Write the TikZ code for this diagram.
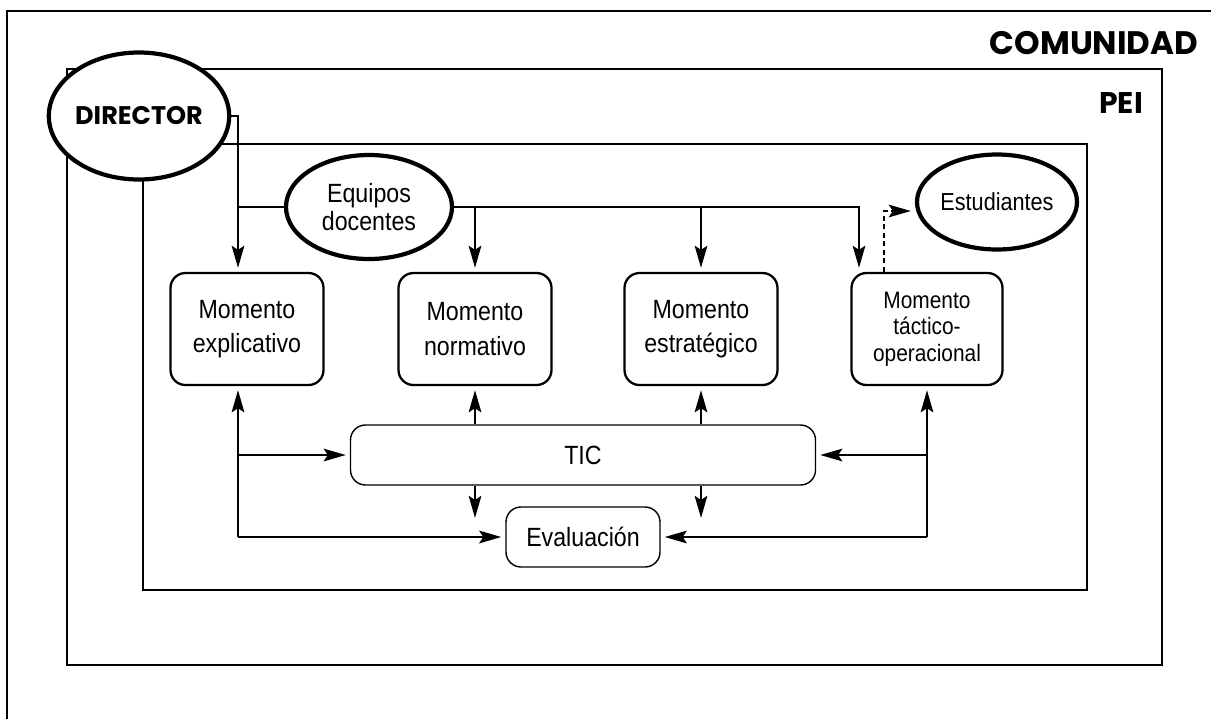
\documentclass[tikz,border=0pt]{standalone}
\usepackage{fontspec}
\setmainfont{Liberation Sans}[FakeStretch=0.88]
\newfontfamily\titulo{Poppins}
\usetikzlibrary{shapes.geometric,arrows.meta}
\begin{document}
\begin{tikzpicture}[x=0.2mm,y=-0.2mm,
	linea/.style={line width=1.6pt},
	conector/.style={linea,-{Stealth[length=4.4mm,width=2.5mm,inset=0.8mm]},shorten >=0.8mm},
	marco/.style={line width=0.8pt},
	actor/.style={draw,ellipse,line width=2.4pt,fill=white,inner sep=0pt,align=center},
	momento/.style={draw,line width=1.3pt,rounded corners=3mm,minimum width=30.6mm,minimum height=22.4mm,align=center,font=\fontsize{15}{19.5}\selectfont},
	apoyo/.style={draw,line width=0.8pt,rounded corners=3mm,minimum height=12mm,font=\fontsize{15}{18}\selectfont}]
	\useasboundingbox (0,0) rectangle (1211,719);
	\draw[line width=1.5pt] (7,719) -- (7,11) -- (1211,11);
	\draw[marco] (67,69) rectangle (1162,665);
	\draw[marco] (143,144) rectangle (1087,590);
	\node[font=\titulo\bfseries\fontsize{18.5}{20}\selectfont] (com) at (1094,43) {COMUNIDAD};
	\node[font=\titulo\bfseries\fontsize{17}{20}\selectfont] (pei) at (1121,103) {PEI};
	\node[actor,minimum width=32.8mm,minimum height=25.4mm,font=\titulo\bfseries\fontsize{14.5}{17}\selectfont] (dir) at (139,116) {DIRECTOR};
	\node[actor,minimum width=33.2mm,minimum height=20.8mm,font=\fontsize{15}{16}\selectfont] (equ) at (369,207) {Equipos\\docentes};
	\node[actor,minimum width=30.2mm,minimum height=19mm,font=\fontsize{14}{16}\selectfont] (stu) at (997,202) {Estudiantes};
	\node[momento] (exp) at (247,329) {Momento\\explicativo};
	\node[momento] (nor) at (475,329) {Momento\\normativo};
	\node[momento] (est) at (701,329) {Momento\\estratégico};
	\node[momento,minimum width=30.2mm,font=\fontsize{13.5}{15}\selectfont] (tac) at (927,329) {Momento\\táctico-\\operacional};
	\node[apoyo,minimum width=93mm] (tic) at (583,455) {TIC};
	\node[apoyo,minimum width=30.8mm] (eva) at (583,537) {Evaluación};
	\coordinate (bi) at (238,207);
	\coordinate (bd) at (859,207);
	\coordinate (ci) at (238,537);
	\coordinate (cd) at (927,537);
	\coordinate (pe) at (884,211);
	\coordinate (fn) at (475,522);
	\coordinate (fe) at (701,522);
	\draw[conector] (dir.east) -| (bi |- exp.north);
	\draw[linea] (equ.west) -- (bi);
	\draw[conector] (equ.east) -| (bd |- tac.north);
	\draw[conector] (nor.north |- bd) -- (nor.north);
	\draw[conector] (est.north |- bd) -- (est.north);
	\draw[conector,dash pattern=on 1mm off 0.7mm] (pe |- tac.north) |- ([yshift=-1.8mm]stu.west);
	\draw[conector] (ci) -- (exp.south -| ci);
	\draw[conector] (ci |- tic.west) -- (tic.west);
	\draw[conector] (ci) -- (eva.west);
	\draw[conector] (cd) -- (tac.south);
	\draw[conector] (cd |- tic.east) -- (tic.east);
	\draw[conector] (cd) -- (eva.east);
	\draw[conector] (tic.north -| nor.south) -- (nor.south);
	\draw[conector] (tic.north -| est.south) -- (est.south);
	\draw[conector] (tic.south -| fn) -- (fn);
	\draw[conector] (tic.south -| fe) -- (fe);
\end{tikzpicture}
\end{document}
